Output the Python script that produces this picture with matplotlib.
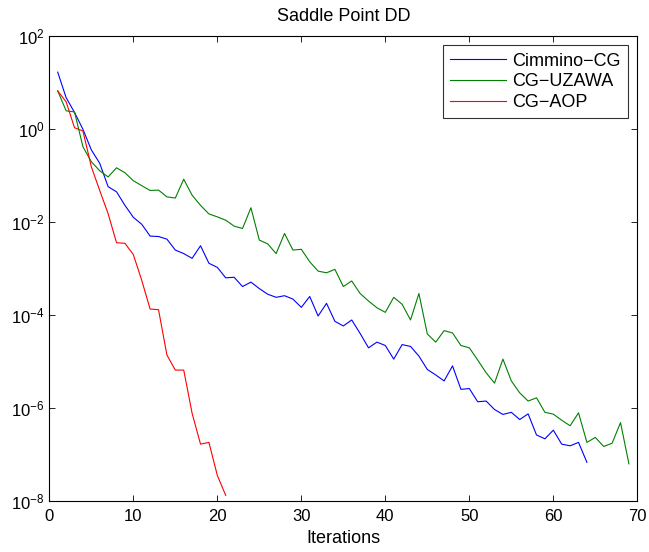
import numpy as np
import matplotlib
matplotlib.use("Agg")
import matplotlib.pyplot as plt
from matplotlib.ticker import LogLocator, LogFormatterMathtext, NullLocator

plt.rcParams["font.family"] = ["Liberation Sans", "DejaVu Sans"]
plt.rcParams["mathtext.fontset"] = "custom"
plt.rcParams["mathtext.rm"] = "Liberation Sans"
plt.rcParams["mathtext.it"] = "Liberation Sans"

# residual history
cimmino_cg = [17, 4.8, 2.3, 1.0, 0.36, 0.185, 0.058, 0.045, 0.023, 0.0127,
              0.009, 0.005, 0.0049, 0.0043, 0.0025, 0.0021, 0.00166, 0.0031, 0.0013, 0.00106,
              6.3e-4, 6.5e-4, 4.1e-4, 5.1e-4, 3.7e-4, 2.8e-4, 2.4e-4, 2.6e-4, 2.2e-4, 1.46e-4,
              2.5e-4, 9.5e-5, 1.78e-4, 7.3e-5, 5.8e-5, 7.8e-5, 4.0e-5, 1.96e-5, 2.6e-5, 2.2e-5,
              1.12e-5, 2.3e-5, 2.1e-5, 1.3e-5, 6.7e-6, 5.1e-6, 3.8e-6, 8.0e-6, 2.5e-6, 2.6e-6,
              1.35e-6, 1.4e-6, 9.2e-7, 7.2e-7, 8.0e-7, 5.6e-7, 7.4e-7, 2.6e-7, 2.15e-7, 3.3e-7,
              1.65e-7, 1.52e-7, 1.8e-7, 6.7e-8]
cg_uzawa = [6.7, 2.5, 2.36, 0.42, 0.2, 0.128, 0.094, 0.148, 0.116, 0.078,
            0.061, 0.048, 0.049, 0.035, 0.033, 0.084, 0.038, 0.023, 0.015, 0.013,
            0.011, 0.0082, 0.0073, 0.0204, 0.0041, 0.0034, 0.0021, 0.0057, 0.0025, 0.0026,
            0.0014, 8.8e-4, 8.1e-4, 9.6e-4, 4.1e-4, 5.4e-4, 2.9e-4, 2.0e-4, 1.43e-4, 1.14e-4,
            2.4e-4, 1.7e-4, 7.8e-5, 2.9e-4, 3.9e-5, 2.6e-5, 4.6e-5, 4.1e-5, 2.2e-5, 1.96e-5,
            1.07e-5, 5.7e-6, 3.4e-6, 1.12e-5, 3.8e-6, 2.1e-6, 1.4e-6, 1.64e-6, 8.0e-7, 7.3e-7,
            5.4e-7, 4.1e-7, 7.8e-7, 1.8e-7, 2.3e-7, 1.47e-7, 1.73e-7, 4.8e-7, 6.2e-8]
cg_aop = [6.7, 3.9, 1.08, 0.92, 0.156, 0.048, 0.0152, 0.0036, 0.0035, 0.002,
          5.6e-4, 1.34e-4, 1.3e-4, 1.37e-5, 6.5e-6, 6.5e-6, 7.6e-7, 1.65e-7, 1.8e-7, 3.5e-8,
          1.3e-8]

fig = plt.figure(figsize=(6.49, 5.52), dpi=100)
ax = fig.add_axes([0.076, 0.093, 0.906, 0.841])

ax.semilogy(np.arange(1, len(cimmino_cg) + 1), cimmino_cg, color="#0000ff", lw=0.8, label="Cimmino\u2212CG")
ax.semilogy(np.arange(1, len(cg_uzawa) + 1), cg_uzawa, color="#008000", lw=0.8, label="CG\u2212UZAWA")
ax.semilogy(np.arange(1, len(cg_aop) + 1), cg_aop, color="#ff0000", lw=0.8, label="CG\u2212AOP")

ax.set_xlim(0, 70)
ax.set_ylim(1e-8, 1e2)
ax.set_xticks(range(0, 71, 10))
ax.yaxis.set_major_locator(LogLocator(base=100.0))
ax.yaxis.set_major_formatter(LogFormatterMathtext(base=10.0))
ax.yaxis.set_minor_locator(NullLocator())

ax.tick_params(direction="in", top=True, right=True, length=4, width=0.6, labelsize=12)
ax.tick_params(axis="x", pad=6)
for s in ax.spines.values():
    s.set_linewidth(0.8)

ax.set_title("Saddle Point DD", fontsize=13, pad=11)
ax.set_xlabel("Iterations", fontsize=13, labelpad=4.5)

leg = ax.legend(loc="upper right", fancybox=False, edgecolor="black", fontsize=13,
                handlelength=3.1, handletextpad=0.35, borderpad=0.4, labelspacing=0.2,
                borderaxespad=0.5)
leg.get_frame().set_linewidth(0.8)

fig.savefig("out.png", dpi=100, facecolor="white")
